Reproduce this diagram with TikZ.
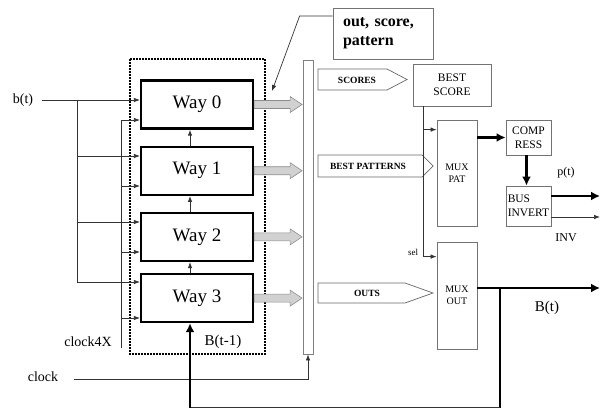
\documentclass[tikz,border=0pt]{standalone}
\usepackage{fontspec}
\setmainfont{Liberation Serif}
\usetikzlibrary{arrows.meta, positioning, calc}

\begin{document}
\begin{tikzpicture}[x=1pt, y=-1pt, font=\fontsize{14}{16}\selectfont,
    >={Latex[length=6pt,width=4.5pt]},
    wire/.style={draw=black!80, line width=0.7pt},
    heavy/.style={line width=2.6pt},
    heavyarrow/.style={line width=2.6pt, -{Latex[length=9pt,width=9pt]}},
    way/.style={draw, line width=2.2pt, minimum width=112pt, minimum height=48pt, font=\fontsize{19}{21}\selectfont},
    blk/.style={draw=black!55, line width=0.8pt, inner sep=1pt, align=center, font=\fontsize{11.5}{14}\selectfont},
    tag/.style={draw=black!60, line width=0.7pt},
    tagtxt/.style={font=\bfseries\fontsize{9.5}{11}\selectfont},
    fat/.style={draw=black!45, fill=black!18, line width=0.6pt}]
    \useasboundingbox (0,0) rectangle (607,409);

    % the four ways and the register round them
    \node[way] (way0) at (197,104.5) {Way 0};
    \node[way, below=16pt of way0] (way1) {Way 1};
    \node[way, below=16pt of way1] (way2) {Way 2};
    \node[way, below=11pt of way2] (way3) {Way 3};
    \draw[dash pattern=on 1.6pt off 1.4pt, line width=1.6pt] (130,59) rectangle (265,354);
    \node[font=\fontsize{15}{17}\selectfont] (bprev) at (223,342) {B(t-1)};
    \foreach \i/\j in {1/0,2/1,3/2}
        \draw[wire, line width=1pt, ->] ([xshift=-7pt]way\i.north) -- ([xshift=-7pt]way\j.south);

    % inputs
    \node (bt) at (23,100) {b(t)};
    \coordinate (bsplit) at (77,100);
    \draw[wire] ([xshift=5pt]bt.east) -- (bsplit);
    \draw[wire, ->] (bsplit) -- (way0.west |- bsplit);
    \draw[wire] (bsplit) -- (77,282);
    \foreach \i/\y in {1/156,2/222,3/282}
        \draw[wire, ->] (77,\y) -- (way\i.west |- 0,\y);
    \node (clk4) at (88,342) {clock4X};
    \draw[wire] (121,120) -- (121,348);
    \foreach \i/\y in {0/120,1/186,2/252,3/318}
        \draw[wire, ->] (121,\y) -- (way\i.west |- 0,\y);

    % outputs into the bus
    \node[draw=black!50, line width=0.8pt, minimum width=10pt, minimum height=294pt, inner sep=0] (bus) at (308,207) {};
    \foreach \i in {0,...,3}
        \draw[fat] ([yshift=4pt]way\i.east) -- ++(36,0) -- ++(0,-4) -- ++(12,8) -- ++(-12,8) -- ++(0,-4) -- ++(-36,0) -- cycle;
    \node (clk) at (43,377) {clock};
    \draw[wire, ->] ([xshift=12pt,yshift=-2pt]clk.east) -| (bus.south);

    % note
    \node[draw=black!55, line width=0.8pt, minimum width=100pt, minimum height=51pt, align=left, text width=80pt,
        font=\bfseries\fontsize{16}{19}\selectfont] (note) at (383,33.5) {out, score,\\pattern};
    \coordinate (ptr) at (272,91);
    \draw[wire, ->] ([yshift=17.5pt]note.west) -- ++(-33,0) -- (ptr);

    % tags
    \draw[tag] (318,69) -- (387,69) -- (407,79.5) -- (387,90) -- (318,90) -- cycle;
    \node[tagtxt] (scores) at (357,80) {SCORES};
    \draw[tag] (318,155) -- (422,155) -- (433,166) -- (422,177) -- (318,177) -- cycle;
    \node[tagtxt] (bestpat) at (368,166) {BEST PATTERNS};
    \draw[tag] (318,283) -- (405,283) -- (433,293) -- (405,303) -- (318,303) -- cycle;
    \node[tagtxt] (outs) at (367,293) {OUTS};

    % right-hand blocks
    \node[blk, minimum width=78pt, minimum height=42pt] (bestscore) at (452,85) {BEST\\SCORE};
    \node[blk, minimum width=40pt, minimum height=106pt, font=\fontsize{10}{12}\selectfont] (muxpat) at (457,173) {MUX\\PAT};
    \node[blk, minimum width=40pt, minimum height=107pt, font=\fontsize{10}{12}\selectfont] (muxout) at (457,295.5) {MUX\\OUT};
    \node[blk, minimum width=45pt, minimum height=35pt] (compress) at (528.5,137.5) {COMP\\RESS};
    \node[blk, minimum width=45pt, minimum height=40pt, align=left, inner sep=0.5pt] (businv) at (528.5,206) {BUS\\INVERT};

    \coordinate (selx) at ([xshift=-29pt]bestscore.south);
    \coordinate (patsel) at ([yshift=-10pt]muxpat.north west);
    \draw[wire, ->] (selx) |- ([yshift=-15pt]muxout.north west);
    \draw[wire, ->] (selx |- patsel) -- (patsel);
    \node[font=\fontsize{9}{10}\selectfont] (sel) at (413,252) {sel};

    \draw[heavyarrow] (muxpat.east |- compress) -- (compress.west);
    \draw[heavyarrow] ([xshift=-2pt]compress.south) -- ([xshift=-2pt]businv.north);
    \coordinate (pout) at (600,196);
    \coordinate (invout) at (600,217);
    \draw[heavyarrow] (businv.east |- pout) -- (pout);
    \draw[wire, ->] (businv.east |- invout) -- (invout);
    \node[font=\fontsize{12}{14}\selectfont] (pt) at (566,173) {p(t)};
    \node[font=\fontsize{12}{14}\selectfont] (inv) at (566,238) {INV};

    % B(t) and feedback
    \coordinate (bout) at (600,288);
    \draw[heavyarrow] (muxout.east |- bout) -- (bout);
    \node[font=\fontsize{15}{17}\selectfont] (Bt) at (547,308) {B(t)};
    \coordinate (fbtap) at (500,288);
    \coordinate (fbr) at (500,407.5);
    \coordinate (fbl) at (190,407.5);
    \draw[heavy] (fbtap) -- (fbr);
    \draw[wire] (fbr) -- (fbl);
    \draw[heavyarrow] (fbl) -- ([xshift=-7pt]way3.south);
\end{tikzpicture}
\end{document}
